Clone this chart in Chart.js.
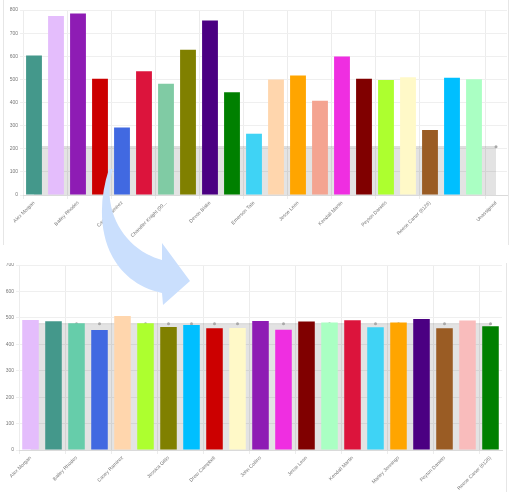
<!DOCTYPE html>
<html>
<head>
<meta charset="utf-8">
<script src="https://cdn.jsdelivr.net/npm/chart.js@4.4.1/dist/chart.umd.min.js"></script>
<style>
  body { margin: 0; background: #fff; font-family: Arial, sans-serif; }
  #page { position: relative; width: 512px; height: 492px; overflow: hidden; background: #fff; }
  #top-wrap { position: absolute; left: 0; top: 0; width: 512px; height: 250px; }
  #bottom-clip { position: absolute; left: 0; top: 263px; width: 512px; height: 229px; overflow: hidden; }
  #bottom-wrap { position: absolute; left: 0; top: -8px; width: 512px; height: 237px; }
  .edge { position: absolute; width: 1px; background: #e6e6e6; }
  #arrow { position: absolute; left: 0; top: 0; }
</style>
</head>
<body>
<div id="page">
  <div id="top-wrap"><canvas id="top-chart"></canvas></div>
  <div id="bottom-clip"><div id="bottom-wrap"><canvas id="bottom-chart"></canvas></div></div>
  <div class="edge" style="left:3px;top:0;height:245px"></div>
  <div class="edge" style="left:508px;top:0;height:245px"></div>
  <div class="edge" style="left:506px;top:263px;height:229px"></div>
  <svg id="arrow" width="512" height="492">
    <path d="M 109 169 C 92 220, 104 280, 162 293 L 163 305 L 190 281 L 162 243 L 162 260 C 125 250, 100 210, 113 169 Z" fill="#cadffd"/>
  </svg>
</div>
<script>
// top chart - before
const topLabels = ['Alex Morgan', 'Avery Brooks', 'Bailey Rhodes', 'Blake Turner', 'Casey Ramirez', 'Cameron Reed',
    'Chandler Knight (99...', 'Dakota Hayes', 'Devon Blake', 'Drew Campbell', 'Emerson Tate', 'Jamie Ellis',
    'Jesse Leon', 'Jordan Price', 'Kendall Martin', 'Marley Jennings', 'Peyton Daniels', 'Quinn Harper',
    'Reese Carter (6126)', 'Riley Stone', 'Taylor Brooks', 'Unassigned'];
const topValues = [603, 774, 785, 503, 292, 535, 481, 628, 755, 444, 265,
    499, 517, 408, 599, 503, 497, 509, 281, 507, 501, null];
const topColors = ['#44988b', '#e4bdfc', '#8e1cb4', '#cc0000', '#4169e1', '#dc143c', '#80cba4', '#808000',
    '#4b0082', '#008000', '#3fd3f5', '#ffd6ad', '#ffa500', '#f4a491', '#ef2ee1', '#800000', '#adff2f',
    '#fff9c8', '#9a5c24', '#00bfff', '#aaffc3', '#cccccc'];
const topTarget = 209;
const topShown = [0, 2, 4, 6, 8, 10, 12, 14, 16, 18, 21];

// bottom chart - after
const bottomLabels = ['Alex Morgan', 'Avery Brooks', 'Bailey Rhodes', 'Blake Turner', 'Casey Ramirez', 'Chandler Knight',
    'Jessica Gillis', 'Devon Blake', 'Drew Campbell', 'Emerson Tate', 'John Collins', 'Jamie Ellis',
    'Jesse Leon', 'Jordan Price', 'Kendall Martin', 'Logan Hayes', 'Marley Jennings', 'Morgan Lee',
    'Peyton Daniels', 'Quinn Harper', 'Reese Carter (6126)'];
const bottomValues = [492, 487, 480, 454, 507, 480, 465, 473, 461, 462, 488,
    455, 486, 482, 491, 464, 482, 496, 461, 490, 468];
const bottomColors = ['#e4bdfc', '#44988b', '#66cdaa', '#4169e1', '#ffd6ad', '#adff2f', '#808000', '#00bfff',
    '#cc0000', '#fff9c8', '#8e1cb4', '#ef2ee1', '#800000', '#aaffc3', '#dc143c', '#3fd3f5', '#ffa500',
    '#4b0082', '#9a5c24', '#f9bcbc', '#008000'];
const bottomTarget = 478;
const bottomShown = [0, 2, 4, 6, 8, 10, 12, 14, 16, 18, 20];

function makeChart(id, labels, values, colors, target, shown, yMax, yWidth, xHeight, padRight) {
    return new Chart(document.getElementById(id), {
        data: {
            labels: labels,
            datasets: [{
                type: 'bar',
                data: values,
                backgroundColor: colors,
                order: 1
            }, {
                type: 'line',
                data: labels.map(() => target),
                borderColor: 'rgba(0,0,0,0.13)',
                borderWidth: 1,
                backgroundColor: 'rgba(0,0,0,0.11)',
                fill: 'origin',
                pointRadius: 1.5,
                pointBorderWidth: 0,
                pointBackgroundColor: '#a8a8a8',
                order: 2
            }]
        },
        options: {
            responsive: true,
            maintainAspectRatio: false,
            animation: false,
            layout: { padding: { top: 10, right: padRight, left: 0, bottom: 0 } },
            plugins: { legend: { display: false }, tooltip: { enabled: false } },
            scales: {
                x: {
                    grid: {
                        color: ctx => (shown.includes(ctx.index) || ctx.index >= labels.length) ? '#ececec' : 'rgba(0,0,0,0)',
                        tickLength: 4
                    },
                    border: { color: '#dadada' },
                    ticks: {
                        autoSkip: false,
                        minRotation: 45,
                        maxRotation: 45,
                        padding: 1,
                        color: '#777',
                        font: { size: 5 },
                        callback: (v, i) => shown.includes(i) ? labels[i] : ''
                    },
                    afterFit: s => { s.height = xHeight; }
                },
                y: {
                    min: 0,
                    max: yMax,
                    grid: { color: '#efefef', tickLength: 3 },
                    border: { display: false },
                    ticks: { stepSize: 100, color: '#777', font: { size: 5 }, padding: 2 },
                    afterFit: s => { s.width = yWidth; }
                }
            }
        }
    });
}

makeChart('top-chart', topLabels, topValues, topColors, topTarget, topShown, 800, 23, 55, 5);
makeChart('bottom-chart', bottomLabels, bottomValues, bottomColors, bottomTarget, bottomShown, 700, 19, 42, 10);
</script>
</body>
</html>
